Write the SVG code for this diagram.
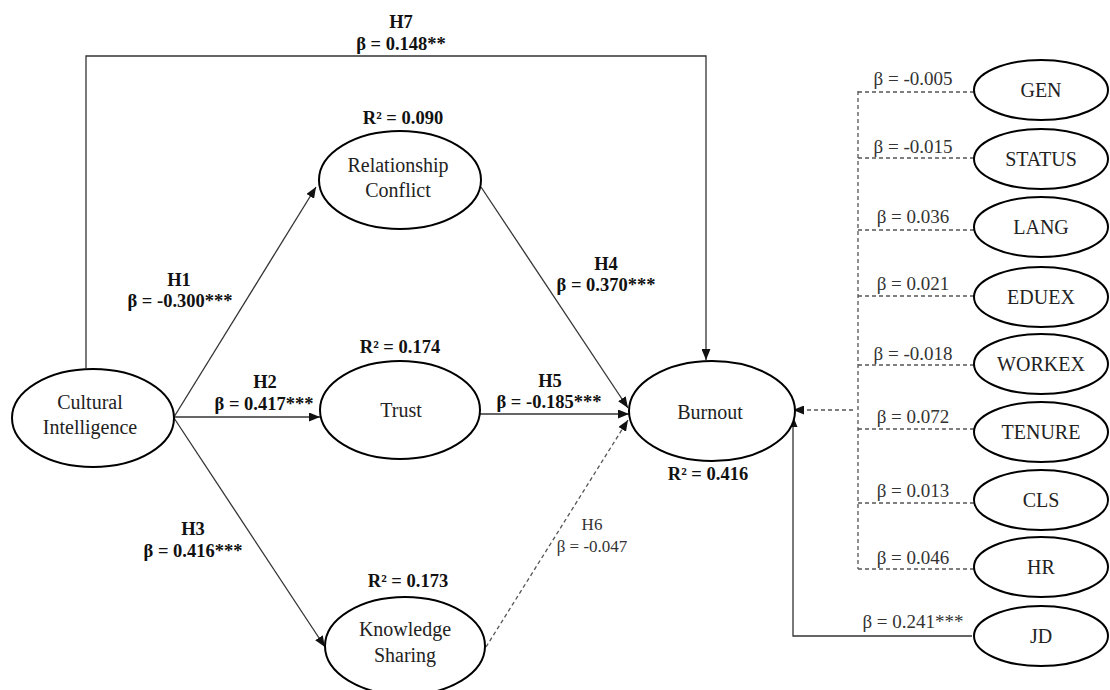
<svg xmlns="http://www.w3.org/2000/svg" width="1110" height="690" viewBox="0 0 1110 690">
<style>
  text { font-family: "Liberation Serif", Tinos, "Times New Roman", "DejaVu Serif", serif; text-anchor: middle; }
  .node { fill: #fff; stroke: #000; stroke-width: 2; }
  .lbl { font-size: 20px; fill: #222; }
  .bold { font-size: 18.5px; font-weight: bold; fill: #111; }
  .reg { font-size: 17px; fill: #333; }
  .ctl { font-size: 19px; fill: #333; }
  .edge { fill: none; stroke: #333; stroke-width: 1.3; }
  .dash { fill: none; stroke: #555; stroke-width: 1.3; stroke-dasharray: 4 3; }
</style>
<defs>
  <marker id="arr" markerUnits="userSpaceOnUse" markerWidth="11" markerHeight="9" refX="11" refY="4.5" orient="auto">
    <path d="M0,0 L11,4.5 L0,9 z" fill="#111"/>
  </marker>
</defs>
<rect width="1110" height="690" fill="#fff"/>

<g id="connectors">
  <path class="edge" d="M86,368 V56 H706 V360" marker-end="url(#arr)"/>
  <line class="edge" x1="174" y1="417" x2="316" y2="187" marker-end="url(#arr)"/>
  <line class="edge" x1="174" y1="417" x2="320" y2="417" marker-end="url(#arr)"/>
  <line class="edge" x1="174" y1="418" x2="325" y2="647" marker-end="url(#arr)"/>
  <line class="edge" x1="481" y1="187" x2="628" y2="408" marker-end="url(#arr)"/>
  <line class="edge" x1="480" y1="414" x2="629" y2="414" marker-end="url(#arr)"/>
  <line class="dash" x1="486" y1="647" x2="628" y2="420" marker-end="url(#arr)"/>
  <line class="dash" x1="858" y1="91" x2="858" y2="569"/>
  <line class="dash" x1="858" y1="92" x2="974" y2="92"/>
  <line class="dash" x1="858" y1="158" x2="974" y2="158"/>
  <line class="dash" x1="858" y1="230" x2="974" y2="230"/>
  <line class="dash" x1="858" y1="296" x2="974" y2="296"/>
  <line class="dash" x1="858" y1="365" x2="974" y2="365"/>
  <line class="dash" x1="858" y1="429" x2="974" y2="429"/>
  <line class="dash" x1="858" y1="503" x2="974" y2="503"/>
  <line class="dash" x1="858" y1="569" x2="974" y2="569"/>
  <line class="dash" x1="853" y1="410" x2="793" y2="410" marker-end="url(#arr)"/>
  <path class="edge" d="M972,636 H793 V416" marker-end="url(#arr)"/>
</g>

<g id="edge-labels">
  <text class="bold" x="401" y="28">H7</text>
  <text class="bold" x="401" y="50">β = 0.148**</text>
  <text class="bold" x="179" y="286">H1</text>
  <text class="bold" x="180" y="307">β = -0.300***</text>
  <text class="bold" x="265" y="388">H2</text>
  <text class="bold" x="264" y="410">β = 0.417***</text>
  <text class="bold" x="193" y="535">H3</text>
  <text class="bold" x="193" y="557">β = 0.416***</text>
  <text class="bold" x="606" y="270">H4</text>
  <text class="bold" x="606" y="291">β = 0.370***</text>
  <text class="bold" x="550" y="387">H5</text>
  <text class="bold" x="549" y="408">β = -0.185***</text>
  <text class="reg" x="592" y="530">H6</text>
  <text class="reg" x="592" y="552">β = -0.047</text>
  <text class="ctl" x="913" y="85">β = -0.005</text>
  <text class="ctl" x="913" y="153">β = -0.015</text>
  <text class="ctl" x="913" y="223">β = 0.036</text>
  <text class="ctl" x="913" y="290">β = 0.021</text>
  <text class="ctl" x="913" y="360">β = -0.018</text>
  <text class="ctl" x="913" y="423">β = 0.072</text>
  <text class="ctl" x="913" y="497">β = 0.013</text>
  <text class="ctl" x="913" y="564">β = 0.046</text>
  <text class="ctl" x="913" y="628">β = 0.241***</text>
</g>

<g id="cultural-intelligence">
  <ellipse class="node" cx="93" cy="418" rx="81" ry="49"/>
  <text class="lbl" x="90" y="409">Cultural</text>
  <text class="lbl" x="90" y="434">Intelligence</text>
</g>
<g id="relationship-conflict">
  <text class="bold" x="403" y="124">R² = 0.090</text>
  <ellipse class="node" cx="400" cy="180" rx="81" ry="49"/>
  <text class="lbl" x="398" y="172">Relationship</text>
  <text class="lbl" x="398" y="197">Conflict</text>
</g>
<g id="trust">
  <text class="bold" x="400" y="353">R² = 0.174</text>
  <ellipse class="node" cx="400" cy="410" rx="80" ry="49"/>
  <text class="lbl" x="401" y="417">Trust</text>
</g>
<g id="knowledge-sharing">
  <text class="bold" x="408" y="587">R² = 0.173</text>
  <ellipse class="node" cx="405" cy="646" rx="80" ry="49"/>
  <text class="lbl" x="405" y="636">Knowledge</text>
  <text class="lbl" x="405" y="662">Sharing</text>
</g>
<g id="burnout">
  <ellipse class="node" cx="712" cy="411" rx="83" ry="50"/>
  <text class="lbl" x="710" y="419">Burnout</text>
  <text class="bold" x="708" y="480">R² = 0.416</text>
</g>
<g id="gen"><ellipse class="node" cx="1041" cy="90" rx="67" ry="30"/><text class="lbl" x="1041" y="97">GEN</text></g>
<g id="status"><ellipse class="node" cx="1041" cy="159" rx="67" ry="30"/><text class="lbl" x="1041" y="166">STATUS</text></g>
<g id="lang"><ellipse class="node" cx="1041" cy="227" rx="67" ry="30"/><text class="lbl" x="1041" y="234">LANG</text></g>
<g id="eduex"><ellipse class="node" cx="1041" cy="297" rx="67" ry="30"/><text class="lbl" x="1041" y="304">EDUEX</text></g>
<g id="workex"><ellipse class="node" cx="1041" cy="364" rx="67" ry="30"/><text class="lbl" x="1041" y="371">WORKEX</text></g>
<g id="tenure"><ellipse class="node" cx="1041" cy="432" rx="67" ry="30"/><text class="lbl" x="1041" y="439">TENURE</text></g>
<g id="cls"><ellipse class="node" cx="1041" cy="500" rx="67" ry="30"/><text class="lbl" x="1041" y="507">CLS</text></g>
<g id="hr"><ellipse class="node" cx="1041" cy="567" rx="67" ry="30"/><text class="lbl" x="1041" y="574">HR</text></g>
<g id="jd"><ellipse class="node" cx="1041" cy="636" rx="67" ry="30"/><text class="lbl" x="1041" y="643">JD</text></g>
</svg>
